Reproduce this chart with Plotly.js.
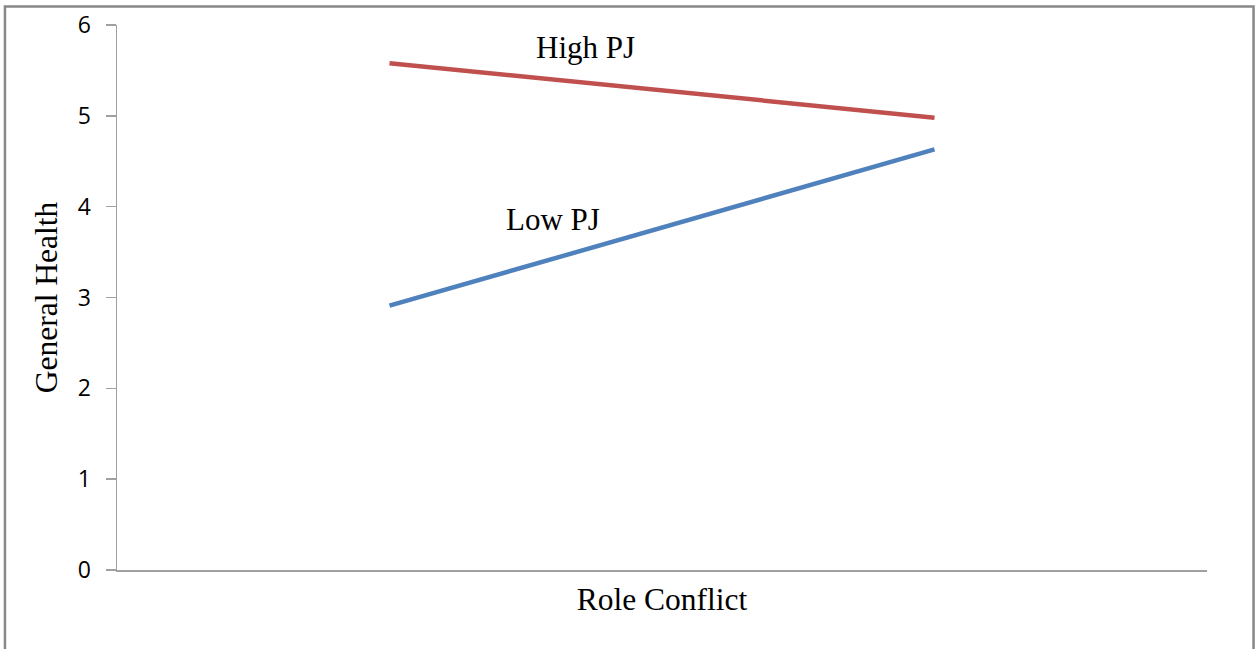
<!DOCTYPE html>
<html>
<head>
<meta charset="utf-8">
<script src="https://cdn.plot.ly/plotly-3.0.1.min.js"></script>
<style>html,body{margin:0;padding:0;background:#fff;} #chart{width:1260px;height:649px;}</style>
</head>
<body>
<div id="chart"></div>
<script>
const categories = ["Low RC", "High RC"];
const highPJ = [5.58, 4.98];
const lowPJ = [2.91, 4.63];
const seriesNames = ["High PJ", "Low PJ"];
const yTicks = [0, 1, 2, 3, 4, 5, 6];

const traces = [
  {x: categories, y: highPJ, name: seriesNames[0], type: "scatter", mode: "lines",
   line: {color: "#C0504D", width: 4.5}},
  {x: categories, y: lowPJ, name: seriesNames[1], type: "scatter", mode: "lines",
   line: {color: "#4F81BD", width: 4.5}}
];

const serif = "Liberation Serif, serif";
const layout = {
  width: 1260, height: 649,
  margin: {l: 117, r: 53, t: 25, b: 79},
  paper_bgcolor: "#fff", plot_bgcolor: "#fff",
  showlegend: false,
  font: {family: serif, color: "#000"},
  xaxis: {
    type: "category", range: [-0.5, 1.5],
    showticklabels: false, ticks: "", showgrid: false, zeroline: false,
    showline: true, linecolor: "#a0a0a0", linewidth: 1.5,
    title: {text: "Role Conflict", font: {family: serif, size: 31.5, color: "#000"}, standoff: 17}
  },
  yaxis: {
    range: [0, 6], tickvals: yTicks, ticktext: yTicks.map(String),
    ticks: "outside", ticklen: 10, tickcolor: "#a0a0a0", tickwidth: 1.5,
    showgrid: false, zeroline: false,
    showline: true, linecolor: "#a0a0a0", linewidth: 1.5,
    tickfont: {family: "Open Sans, sans-serif", size: 23, color: "#000"},
    ticklabelstandoff: 10,
    title: {text: "General Health", font: {family: serif, size: 31.5, color: "#000"}, standoff: 10}
  },
  annotations: [
    {text: seriesNames[0], xref: "paper", yref: "paper", x: 0.430, y: 0.958, xanchor: "center", yanchor: "middle", showarrow: false,
     font: {family: serif, size: 31, color: "#000"}},
    {text: seriesNames[1], xref: "paper", yref: "paper", x: 0.400, y: 0.644, xanchor: "center", yanchor: "middle", showarrow: false,
     font: {family: serif, size: 31, color: "#000"}}
  ],
  shapes: [
    {type: "rect", xref: "paper", yref: "paper", x0: -0.1028, x1: 1.0427, y0: -0.2, y1: 1.0339,
     line: {color: "#888", width: 2.5}, fillcolor: "rgba(0,0,0,0)", layer: "below"}
  ]
};

Plotly.newPlot("chart", traces, layout, {displayModeBar: false, staticPlot: true});
</script>
</body>
</html>
